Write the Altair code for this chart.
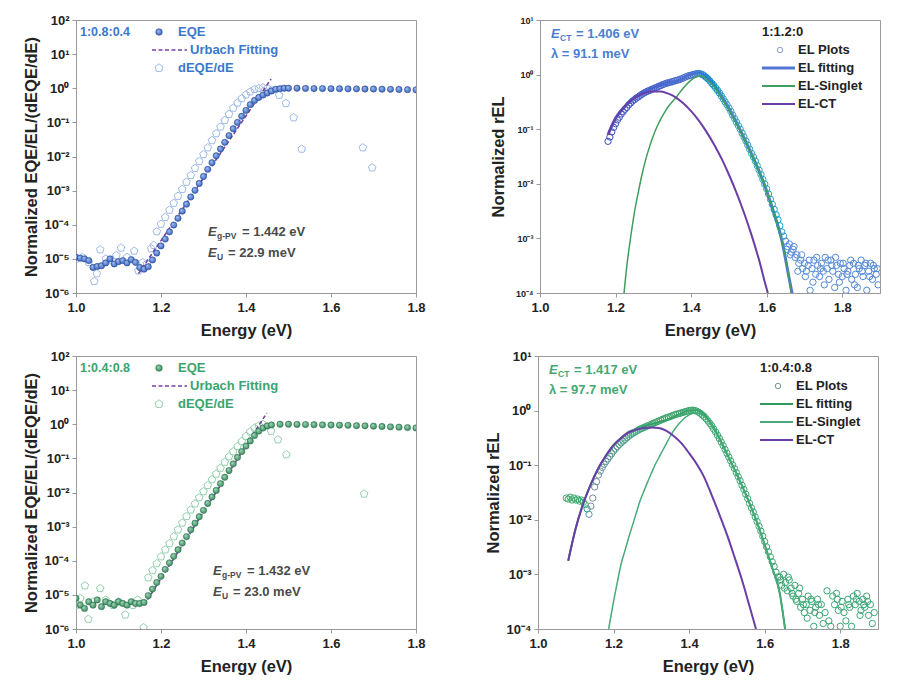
import altair as alt
import pandas as pd

FONT = "Liberation Sans"
PENT = "M0,-1L0.951,-0.309L0.588,0.809L-0.588,0.809L-0.951,-0.309Z"

# ---------------- data (Energy eV, normalized value) ----------------
tl_eqe = [(1.00,1.12e-5),(1.01,1.05e-5),(1.02,1.0e-5),(1.03,8.9e-6),(1.04,5.6e-6),(1.05,6.0e-6),
          (1.06,6.3e-6),(1.07,7.6e-6),(1.08,1.0e-5),(1.09,7.1e-6),(1.10,8.3e-6),(1.11,8.9e-6),
          (1.12,7.6e-6),(1.13,9.5e-6),(1.14,7.9e-6),(1.15,5.6e-6),(1.16,5.0e-6),
          (1.17,5.9e-6),(1.18,9.3e-6),(1.19,1.48e-5),(1.20,2.4e-5),(1.21,3.8e-5),(1.22,6.2e-5),
          (1.23,9.8e-5),(1.24,1.55e-4),(1.25,2.5e-4),(1.26,4.0e-4),(1.27,6.5e-4),(1.28,1.02e-3),
          (1.29,1.62e-3),(1.30,2.6e-3),(1.31,4.2e-3),(1.32,6.6e-3),(1.33,1.05e-2),(1.34,1.66e-2),
          (1.35,2.6e-2),(1.36,4.1e-2),(1.37,6.5e-2),(1.38,0.100),(1.39,0.151),(1.40,0.224),
          (1.41,0.331),(1.42,0.437),(1.43,0.537),(1.44,0.631),(1.45,0.724),(1.46,0.832),(1.47,0.933),
          (1.48,0.97),(1.49,1.0),(1.50,1.0),(1.52,1.0),(1.54,0.99),(1.56,0.98),(1.58,0.98),(1.60,0.97),
          (1.62,0.97),(1.64,0.96),(1.66,0.96),(1.68,0.95),(1.70,0.95),(1.72,0.94),(1.74,0.93),
          (1.76,0.92),(1.78,0.91),(1.80,0.90)]
tl_deqe = [(1.000,1.0e-5),(1.015,1.12e-5),(1.030,7.9e-6),(1.043,2.2e-6),(1.049,3.7e-6),(1.057,1.86e-5),
           (1.070,1.0e-5),(1.085,8.9e-6),(1.095,1.26e-5),(1.106,2.1e-5),(1.120,1.12e-5),(1.137,1.7e-5),
           (1.147,4.5e-6),(1.157,7.9e-6),(1.167,7.2e-6),(1.177,2.0e-5),(1.183,2.5e-5),
           (1.19,6.3e-5),(1.20,1.05e-4),(1.21,1.66e-4),(1.22,2.7e-4),(1.23,4.3e-4),(1.24,6.9e-4),
           (1.25,1.10e-3),(1.26,1.78e-3),(1.27,2.8e-3),(1.28,4.5e-3),(1.29,7.2e-3),(1.30,1.15e-2),
           (1.31,1.82e-2),(1.32,2.95e-2),(1.33,4.7e-2),(1.34,7.4e-2),(1.35,0.115),(1.36,0.174),
           (1.37,0.263),(1.38,0.372),(1.39,0.50),(1.40,0.646),(1.41,0.794),(1.42,0.933),(1.43,1.0),
           (1.44,1.05),(1.45,1.0),(1.46,0.89),(1.478,0.63),(1.494,0.363),(1.512,0.138),(1.531,1.66e-2),
           (1.675,1.82e-2),(1.697,4.7e-3)]
tl_urbach = [(1.147,3.7e-6),(1.459,1.86)]

bl_eqe = [(1.00,7.9e-6),(1.01,5.0e-6),(1.02,4.0e-6),(1.03,6.3e-6),(1.04,5.0e-6),(1.05,7.1e-6),
          (1.06,4.5e-6),(1.07,6.3e-6),(1.08,5.6e-6),(1.09,5.0e-6),(1.10,6.3e-6),(1.11,5.6e-6),
          (1.12,5.0e-6),(1.13,6.3e-6),(1.14,5.6e-6),(1.15,5.6e-6),
          (1.16,6.0e-6),(1.17,9.5e-6),(1.18,1.48e-5),(1.19,2.3e-5),(1.20,3.5e-5),(1.21,5.6e-5),
          (1.22,8.7e-5),(1.23,1.35e-4),(1.24,2.1e-4),(1.25,3.3e-4),(1.26,5.1e-4),(1.27,8.1e-4),
          (1.28,1.26e-3),(1.29,1.95e-3),(1.30,3.0e-3),(1.31,4.8e-3),(1.32,7.4e-3),(1.33,1.15e-2),
          (1.34,1.82e-2),(1.35,2.8e-2),(1.36,4.4e-2),(1.37,6.9e-2),(1.38,0.107),(1.39,0.158),
          (1.40,0.229),(1.41,0.324),(1.42,0.468),(1.43,0.631),(1.44,0.776),(1.45,0.891),(1.46,0.955),
          (1.48,1.0),(1.50,1.0),(1.52,0.99),(1.54,0.98),(1.56,0.97),(1.58,0.96),(1.60,0.95),
          (1.62,0.94),(1.64,0.93),(1.66,0.91),(1.68,0.90),(1.70,0.88),(1.72,0.86),(1.74,0.84),
          (1.76,0.82),(1.78,0.80),(1.80,0.78)]
bl_deqe = [(1.000,5.0e-6),(1.010,7.9e-6),(1.021,1.86e-5),(1.029,1.95e-6),(1.040,6.3e-6),(1.057,1.55e-5),
           (1.070,7.1e-6),(1.087,5.0e-6),(1.100,6.3e-6),(1.116,2.6e-6),(1.134,5.0e-6),(1.145,7.1e-6),
           (1.159,1.1e-6),
           (1.17,3.2e-5),(1.18,5.2e-5),(1.19,8.3e-5),(1.20,1.32e-4),(1.21,2.1e-4),(1.22,3.2e-4),
           (1.23,5.1e-4),(1.24,8.1e-4),(1.25,1.29e-3),(1.26,2.0e-3),(1.27,3.1e-3),(1.28,4.7e-3),
           (1.29,7.1e-3),(1.30,1.07e-2),(1.31,1.62e-2),(1.32,2.4e-2),(1.33,3.5e-2),(1.34,5.2e-2),
           (1.35,7.8e-2),(1.36,0.112),(1.37,0.158),(1.38,0.224),(1.39,0.316),(1.40,0.447),
           (1.41,0.603),(1.42,0.776),(1.43,0.912),(1.44,1.0),(1.459,0.63),(1.475,0.355),
           (1.495,0.129),(1.678,9.1e-3)]
bl_urbach = [(1.16,5.0e-6),(1.449,2.14)]

tr_el = [(1.18,0.060),(1.19,0.089),(1.20,0.126),(1.21,0.166),(1.22,0.209),(1.23,0.251),(1.24,0.302),
         (1.25,0.347),(1.26,0.389),(1.27,0.437),(1.28,0.479),(1.29,0.513),(1.30,0.550),(1.31,0.589),
         (1.32,0.631),(1.33,0.676),(1.34,0.708),(1.35,0.741),(1.36,0.776),(1.37,0.813),(1.38,0.871),
         (1.39,0.933),(1.40,0.977),(1.41,1.02),(1.42,1.05),(1.43,1.0),(1.44,0.891),(1.45,0.759),
         (1.46,0.631),(1.47,0.513),(1.48,0.407),(1.49,0.316),(1.50,0.245),(1.51,0.182),(1.52,0.135),
         (1.53,0.100),(1.54,0.072),(1.55,0.051),(1.56,0.036),(1.57,0.026),(1.58,0.0178),(1.59,0.0120),
         (1.60,0.0081),(1.61,0.0052),(1.62,0.0034),(1.63,0.0022),(1.64,0.00132),
         (1.185,0.072),(1.195,0.108),(1.205,0.148),(1.215,0.190),(1.225,0.232),(1.235,0.280),
         (1.245,0.328),(1.255,0.371),(1.265,0.415),(1.275,0.460),(1.285,0.498),(1.295,0.534),
         (1.305,0.571),(1.315,0.612),(1.325,0.656),(1.335,0.695),(1.345,0.725),(1.355,0.760),
         (1.365,0.795),(1.375,0.843),(1.385,0.905),(1.395,0.960),(1.405,1.0),(1.415,1.04),
         (1.425,1.03),(1.435,0.95),(1.445,0.83),(1.455,0.69),(1.465,0.57),(1.475,0.46),(1.485,0.36),
         (1.495,0.28),(1.505,0.212),(1.515,0.157),(1.525,0.117),(1.535,0.085),(1.545,0.061),
         (1.555,0.043),(1.565,0.031),(1.575,0.0215),(1.585,0.0147),(1.595,0.0099),(1.605,0.0065),
         (1.615,0.0042),(1.625,0.0027),(1.635,0.0017),(1.645,0.0011),
         (1.650,8.9e-4),(1.655,7.1e-4),(1.660,7.9e-4),(1.665,5.6e-4),(1.670,6.3e-4),(1.675,4.5e-4),
         (1.680,5.0e-4),(1.685,3.5e-4),(1.690,4.0e-4),(1.695,2.8e-4),(1.700,3.5e-4),(1.705,2.5e-4),
         (1.710,3.2e-4),(1.715,1.12e-4),(1.720,2.8e-4),(1.725,4.0e-4),(1.730,2.2e-4),(1.735,3.2e-4),
         (1.740,2.0e-4),(1.745,3.5e-4),(1.750,2.5e-4),(1.755,4.5e-4),(1.760,2.8e-4),(1.765,1.78e-4),
         (1.770,4.0e-4),(1.775,2.5e-4),(1.780,1.26e-4),(1.785,3.2e-4),(1.790,2.2e-4),(1.795,3.5e-4),
         (1.800,2.0e-4),(1.805,2.8e-4),(1.810,1.12e-4),(1.815,2.5e-4),(1.820,3.2e-4),(1.825,1.78e-4),
         (1.830,3.5e-4),(1.835,2.2e-4),(1.840,1.26e-4),(1.845,2.8e-4),(1.850,4.0e-4),(1.855,2.0e-4),
         (1.860,3.2e-4),(1.865,1.12e-4),(1.870,2.5e-4),(1.875,3.5e-4),(1.880,1.78e-4),(1.885,2.8e-4),
         (1.890,2.2e-4),(1.895,1.41e-4),
         (1.6525,6.3e-4),(1.6625,5.0e-4),(1.6725,7.1e-4),(1.6825,2.5e-4),(1.6925,5.0e-4),
         (1.7025,2.0e-4),(1.7125,4.0e-4),(1.7225,1.58e-4),(1.7325,4.5e-4),(1.7425,2.8e-4),
         (1.7525,1.41e-4),(1.7625,4.0e-4),(1.7725,3.2e-4),(1.7825,4.5e-4),(1.7925,1.58e-4),
         (1.8025,3.5e-4),(1.8125,2.2e-4),(1.8225,4.0e-4),(1.8325,1.41e-4),(1.8425,3.2e-4),
         (1.8525,2.5e-4),(1.8625,3.5e-4),(1.8725,2.0e-4),(1.8825,3.2e-4),(1.8925,2.8e-4)]
tr_fit = [(1.18,0.079),(1.20,0.158),(1.22,0.240),(1.24,0.332),(1.26,0.414),(1.28,0.496),(1.30,0.566),
          (1.32,0.645),(1.34,0.710),(1.36,0.760),(1.38,0.870),(1.40,1.008),(1.42,1.078),(1.44,0.923),
          (1.46,0.657),(1.48,0.410),(1.50,0.239),(1.52,0.133),(1.54,6.9e-2),(1.56,3.5e-2),
          (1.58,1.70e-2),(1.60,7.4e-3),(1.62,2.8e-3),(1.64,9.3e-4),(1.66,1.78e-4),(1.67,7.9e-5)]
tr_singlet = [(1.2225,1.0e-4),(1.23,3.2e-4),(1.24,1.05e-3),(1.25,3.0e-3),(1.26,6.9e-3),(1.27,1.48e-2),
              (1.28,2.8e-2),(1.29,4.8e-2),(1.30,7.6e-2),(1.31,0.112),(1.32,0.155),(1.33,0.204),
              (1.34,0.263),(1.36,0.380),(1.38,0.575),(1.40,0.794),(1.42,0.933),(1.43,0.933),
              (1.44,0.832),(1.46,0.603),(1.48,0.380),(1.50,0.224),(1.52,0.126),(1.54,6.6e-2),
              (1.56,3.4e-2),(1.58,1.66e-2),(1.60,7.4e-3),(1.62,2.8e-3),(1.64,9.3e-4),(1.65,4.5e-4),
              (1.66,1.78e-4),(1.665,1.0e-4)]
tr_ct = [(1.18,7.9e-2),(1.20,0.158),(1.22,0.240),(1.24,0.331),(1.26,0.407),(1.28,0.468),(1.30,0.490),
         (1.32,0.490),(1.34,0.447),(1.36,0.380),(1.38,0.295),(1.40,0.214),(1.42,0.145),(1.44,0.0912),
         (1.46,0.0537),(1.48,0.0295),(1.50,0.0148),(1.52,6.9e-3),(1.54,2.95e-3),(1.56,1.15e-3),
         (1.58,4.0e-4),(1.597,1.41e-4),(1.603,1.0e-4)]

br_el = [(1.075,2.5e-2),(1.080,2.4e-2),(1.085,2.6e-2),(1.090,2.3e-2),(1.095,2.5e-2),(1.100,2.3e-2),
         (1.105,2.4e-2),(1.110,2.2e-2),(1.115,2.3e-2),(1.120,2.1e-2),(1.125,1.9e-2),(1.130,1.58e-2),
         (1.135,1.26e-2),(1.140,1.78e-2),(1.145,2.5e-2),(1.150,4.0e-2),(1.155,5.0e-2),
         (1.16,6.6e-2),(1.17,9.1e-2),(1.18,0.117),(1.19,0.145),(1.20,0.182),(1.21,0.219),(1.22,0.257),
         (1.23,0.295),(1.24,0.339),(1.25,0.380),(1.26,0.417),(1.27,0.457),(1.28,0.490),(1.29,0.525),
         (1.30,0.562),(1.31,0.603),(1.32,0.646),(1.33,0.692),(1.34,0.741),(1.35,0.776),(1.36,0.832),
         (1.37,0.871),(1.38,0.912),(1.39,0.955),(1.40,1.0),(1.41,1.02),(1.42,0.977),(1.43,0.891),
         (1.44,0.776),(1.45,0.646),(1.46,0.525),(1.47,0.407),(1.48,0.309),(1.49,0.229),(1.50,0.166),
         (1.51,0.120),(1.52,8.7e-2),(1.53,6.2e-2),(1.54,4.3e-2),(1.55,2.95e-2),(1.56,2.0e-2),
         (1.57,1.38e-2),(1.58,9.3e-3),(1.59,6.2e-3),(1.60,4.0e-3),(1.61,2.6e-3),(1.62,1.70e-3),
         (1.63,1.10e-3),
         (1.165,0.078),(1.175,0.104),(1.185,0.131),(1.195,0.163),(1.205,0.200),(1.215,0.238),
         (1.225,0.276),(1.235,0.317),(1.245,0.360),(1.255,0.398),(1.265,0.437),(1.275,0.473),
         (1.285,0.507),(1.295,0.543),(1.305,0.582),(1.315,0.624),(1.325,0.669),(1.335,0.716),
         (1.345,0.758),(1.355,0.804),(1.365,0.851),(1.375,0.891),(1.385,0.933),(1.395,0.977),
         (1.405,1.01),(1.415,1.0),(1.425,0.935),(1.435,0.83),(1.445,0.71),(1.455,0.58),(1.465,0.46),
         (1.475,0.355),(1.485,0.266),(1.495,0.195),(1.505,0.141),(1.515,0.102),(1.525,0.073),
         (1.535,0.052),(1.545,0.036),(1.555,0.0245),(1.565,0.0166),(1.575,0.0113),(1.585,0.0076),
         (1.595,0.0050),(1.605,0.0032),(1.615,0.0021),(1.625,0.0014),(1.635,0.0009),
         (1.640,8.9e-4),(1.645,6.3e-4),(1.650,1.0e-3),(1.655,7.1e-4),(1.660,5.0e-4),(1.665,7.9e-4),
         (1.670,5.6e-4),(1.675,4.0e-4),(1.680,6.3e-4),(1.685,3.2e-4),(1.690,4.5e-4),(1.695,2.5e-4),
         (1.700,3.5e-4),(1.705,2.0e-4),(1.710,2.8e-4),(1.715,4.0e-4),(1.720,2.2e-4),(1.725,3.2e-4),
         (1.730,1.12e-4),(1.735,2.5e-4),(1.740,3.5e-4),(1.745,1.78e-4),(1.750,2.8e-4),(1.755,1.26e-4),
         (1.760,2.0e-4),(1.765,5.0e-4),(1.770,1.41e-4),(1.775,1.12e-4),(1.780,4.0e-4),(1.785,2.8e-4),
         (1.790,4.5e-4),(1.795,2.2e-4),(1.800,1.12e-4),(1.805,3.2e-4),(1.810,2.0e-4),(1.815,1.41e-4),
         (1.820,3.5e-4),(1.825,2.5e-4),(1.830,1.12e-4),(1.835,4.0e-4),(1.840,2.8e-4),(1.845,4.5e-4),
         (1.850,3.2e-4),(1.855,2.2e-4),(1.860,3.5e-4),(1.865,2.5e-4),(1.870,4.0e-4),(1.875,1.78e-4),
         (1.880,2.8e-4),(1.885,1.26e-4),(1.890,2.0e-4),
         (1.6425,7.9e-4),(1.6525,5.6e-4),(1.6625,8.9e-4),(1.6725,4.5e-4),(1.6825,3.5e-4),
         (1.6925,5.6e-4),(1.7025,2.8e-4),(1.7125,1.58e-4),(1.7225,3.5e-4),(1.7325,2.0e-4),
         (1.7425,2.8e-4),(1.7925,3.5e-4),(1.8025,2.5e-4),(1.8225,2.8e-4),(1.8425,3.5e-4),
         (1.8525,1.78e-4),(1.8625,2.8e-4),(1.8725,3.2e-4)]
br_fit = [(1.08,1.78e-3),(1.10,7.1e-3),(1.12,2.0e-2),(1.14,4.5e-2),(1.16,8.9e-2),(1.18,0.151),
          (1.20,0.234),(1.22,0.316),(1.24,0.407),(1.26,0.457),(1.28,0.513),(1.30,0.562),(1.32,0.617),
          (1.34,0.676),(1.36,0.776),(1.38,0.891),(1.40,1.0),(1.42,1.02),(1.44,0.851),(1.46,0.550),
          (1.48,0.316),(1.50,0.162),(1.52,8.5e-2),(1.54,4.2e-2),(1.56,2.0e-2),(1.58,8.9e-3),
          (1.60,3.5e-3),(1.62,1.32e-3),(1.64,4.5e-4),(1.654,1.0e-4)]
br_singlet = [(1.187,1.0e-4),(1.20,3.2e-4),(1.21,7.2e-4),(1.22,1.55e-3),(1.23,2.7e-3),(1.24,4.7e-3),
              (1.25,7.9e-3),(1.26,1.32e-2),(1.27,2.2e-2),(1.28,3.3e-2),(1.29,4.9e-2),(1.30,7.1e-2),
              (1.31,0.102),(1.32,0.138),(1.33,0.186),(1.34,0.251),(1.35,0.339),(1.36,0.437),
              (1.38,0.646),(1.40,0.832),(1.42,0.912),(1.44,0.794),(1.46,0.525),(1.48,0.302),
              (1.50,0.158),(1.52,8.3e-2),(1.54,4.2e-2),(1.56,2.0e-2),(1.58,8.9e-3),(1.60,3.5e-3),
              (1.62,1.32e-3),(1.64,4.5e-4),(1.654,1.0e-4)]
br_ct = [(1.08,1.78e-3),(1.10,7.1e-3),(1.12,2.0e-2),(1.14,4.5e-2),(1.16,8.9e-2),(1.18,0.151),
         (1.20,0.234),(1.22,0.316),(1.24,0.398),(1.26,0.447),(1.28,0.479),(1.30,0.490),(1.32,0.479),
         (1.34,0.427),(1.36,0.339),(1.38,0.251),(1.40,0.166),(1.42,0.105),(1.44,6.0e-2),(1.46,2.8e-2),
         (1.48,1.26e-2),(1.50,5.4e-3),(1.52,2.1e-3),(1.54,7.9e-4),(1.56,2.6e-4),(1.577,1.0e-4)]

x_ticks = [1.0, 1.2, 1.4, 1.6, 1.8]
eqe_ticks = [1e-6, 1e-5, 1e-4, 1e-3, 1e-2, 1e-1, 1, 10, 100]
el_ticks = [1e-4, 1e-3, 1e-2, 1e-1, 1, 10]

# ---------------- helpers ----------------
SUP = {'-': '\u207b', '0': '\u2070', '1': '\u00b9', '2': '\u00b2', '3': '\u00b3',
       '4': '\u2074', '5': '\u2075', '6': '\u2076'}


def lab(e):
    return '10' + ''.join(SUP[c] for c in str(e))


def label_expr(exps):
    expr = "'" + lab(exps[-1]) + "'"
    for e in reversed(exps[:-1]):
        expr = "datum.value < %s ? '%s' : (%s)" % (repr(10.0 ** (e + 0.5)), lab(e), expr)
    return expr


def df(pairs):
    return pd.DataFrame(pairs, columns=['E', 'V'])


dummy = pd.DataFrame({'k': [0]})


def T(s, x, y, color, size=13, style='normal', weight='bold'):
    return alt.Chart(dummy).mark_text(text=s, align='left', baseline='middle', font=FONT,
                                      fontSize=size, fontStyle=style, fontWeight=weight,
                                      color=color).encode(x=alt.value(x), y=alt.value(y))


def Lline(x1, x2, y, color, w, dash=None):
    kw = dict(color=color, strokeWidth=w)
    if dash:
        kw['strokeDash'] = dash
    return alt.Chart(dummy).mark_rule(**kw).encode(x=alt.value(x1), x2=alt.value(x2), y=alt.value(y))


def Lpt(x, y, kind, **kw):
    ch = alt.Chart(dummy)
    m = ch.mark_circle(**kw) if kind == 'circle' else ch.mark_point(**kw)
    return m.encode(x=alt.value(x), y=alt.value(y))


def enc(xmax, ylo, yhi, ticks, exps, ytitle, ylabsize, ytitlepad):
    X = alt.X('E:Q', scale=alt.Scale(domain=[1.0, xmax], nice=False, zero=False),
              axis=alt.Axis(values=x_ticks, format='.1f', title='Energy (eV)', labelFlush=False))
    Y = alt.Y('V:Q', scale=alt.Scale(type='log', domain=[ylo, yhi], nice=False),
              axis=alt.Axis(values=ticks, labelExpr=label_expr(exps), title=ytitle, labelFlush=False,
                            labelFontSize=ylabsize, titlePadding=ytitlepad))
    return X, Y


def grad(c1, c2):
    return {"gradient": "radial", "x1": 0.35, "y1": 0.32, "r1": 0.0, "x2": 0.5, "y2": 0.5, "r2": 0.6,
            "stops": [{"offset": 0, "color": c1}, {"offset": 1, "color": c2}]}


W, H = 340, 273


def eqe_panel(eqe, deqe, urb, tag, tcol, g, gstroke, pcol, eg, eu, ex, ey):
    X, Y = enc(1.8, 1e-6, 1e2, eqe_ticks, [-6, -5, -4, -3, -2, -1, 0, 1, 2],
               'Normalized EQE/EL/(dEQE/dE)', 13, 5)
    pent = alt.Chart(df(deqe)).mark_point(shape=PENT, filled=False, size=64, strokeWidth=1,
                                          color=pcol, opacity=1, clip=True).encode(x=X, y=Y)
    ur = alt.Chart(df(urb)).mark_line(color='#7b3fa6', strokeWidth=1.6, strokeDash=[4, 2.5],
                                      clip=True).encode(x=X, y=Y)
    pts = alt.Chart(df(eqe)).mark_circle(size=40, color=g, stroke=gstroke, strokeWidth=0.5,
                                         opacity=1, clip=True).encode(x=X, y=Y)
    gray = '#4a4a4a'
    layers = [pent, ur, pts,
              T(tag, 4, 12, tcol, size=12.5),
              Lpt(83, 12, 'circle', size=44, color=g, stroke=gstroke, strokeWidth=0.5, opacity=1),
              T('EQE', 102, 12, tcol),
              Lline(76, 111, 30, '#7b3fa6', 1.6, [4, 2.5]),
              T('Urbach Fitting', 114, 30, tcol),
              Lpt(83, 48, 'point', shape=PENT, filled=False, size=70, strokeWidth=1, color=pcol, opacity=1),
              T('dEQE/dE', 102, 48, tcol),
              T('E', ex, ey, gray, style='italic'),
              T('g-PV', ex + 9, ey + 4, gray, size=8.5),
              T('= ' + eg, ex + 34, ey, gray),
              T('E', ex, ey + 21, gray, style='italic'),
              T('U', ex + 9, ey + 25, gray, size=8.5),
              T('= ' + eu, ex + 20, ey + 21, gray)]
    return alt.layer(*layers).properties(width=W, height=H)


def el_panel(el, fit, sing, ct, tag, tcol, ect, lam, cdom, crange, fitcol, fitw, singcol, plotcol,
             ylabsize, ytitlepad):
    X, Y = enc(1.9, 1e-4, 1e1, el_ticks, [-4, -3, -2, -1, 0, 1], 'Normalized rEL', ylabsize, ytitlepad)
    fl = alt.Chart(df(fit)).mark_line(color=fitcol, strokeWidth=fitw, interpolate='monotone',
                                      clip=True).encode(x=X, y=Y)
    pts = alt.Chart(df(el)).mark_point(filled=False, size=40, strokeWidth=1, opacity=1,
                                       clip=True).encode(
        x=X, y=Y, color=alt.Color('E:Q', scale=alt.Scale(domain=cdom, range=crange), legend=None))
    sl = alt.Chart(df(sing)).mark_line(color=singcol, strokeWidth=1.5, interpolate='monotone',
                                       clip=True).encode(x=X, y=Y)
    cl = alt.Chart(df(ct)).mark_line(color='#6a3ea6', strokeWidth=2, interpolate='monotone',
                                     clip=True).encode(x=X, y=Y)
    k = '#222222'
    layers = [fl, pts, sl, cl,
              T('E', 11, 14, tcol, style='italic'),
              T('CT', 20, 18, tcol, size=8.5),
              T('= ' + ect, 36, 14, tcol),
              T('\u03bb = ' + lam, 11, 34, tcol),
              T(tag, 222, 12, k),
              Lpt(240, 30, 'point', shape='circle', filled=False, size=30, strokeWidth=1,
                  color=plotcol, opacity=1),
              T('EL Plots', 258, 30, k),
              Lline(222, 255, 48, fitcol, fitw),
              T('EL fitting', 258, 48, k),
              Lline(222, 255, 66, singcol, 1.8),
              T('EL-Singlet', 258, 66, k),
              Lline(222, 255, 84, '#6a3ea6', 2),
              T('EL-CT', 258, 84, k)]
    return alt.layer(*layers).properties(width=W, height=H)


BLUE_T = '#3a78cc'
GREEN_T = '#3aa46e'

tl = eqe_panel(tl_eqe, tl_deqe, tl_urbach, '1:0.8:0.4', BLUE_T, grad('#a9c4f2', '#2a55b5'),
               '#23458f', '#9dbae8', '1.442 eV', '22.9 meV', 132, 212)
bl = eqe_panel(bl_eqe, bl_deqe, bl_urbach, '1:0.4:0.8', GREEN_T, grad('#a8dcbc', '#2a7d52'),
               '#226a45', '#93d0ad', '1.432 eV', '23.0 meV', 137, 215)
tr = el_panel(tr_el, tr_fit, tr_singlet, tr_ct, '1:1.2:0', '#4a7fd0', '1.406 eV', '91.1 meV',
              [1.17, 1.40, 1.50, 1.60, 1.66, 1.90],
              ['#3c4cc0', '#4a6ed0', '#36a0bc', '#30a8a8', '#5a8ed8', '#4f86d4'],
              '#5575d6', 3, '#3f9f5f', '#8aa0c8', 9, 9)
br = el_panel(br_el, br_fit, br_singlet, br_ct, '1:0.4:0.8', '#45a872', '1.417 eV', '97.7 meV',
              [1.07, 1.125, 1.14, 1.20, 1.30, 1.90],
              ['#3aaa6a', '#3aaa6a', '#7a8c98', '#5a9a90', '#3aa46a', '#3aa878'],
              '#2e9a60', 2, '#4aaa7a', '#6a9a8a', 13, 5)

top = alt.hconcat(tl, tr, spacing=64).resolve_scale(x='independent', y='independent', color='independent')
bot = alt.hconcat(bl, br, spacing=58).resolve_scale(x='independent', y='independent', color='independent')

chart = alt.vconcat(top, bot, spacing=10).resolve_scale(
    x='independent', y='independent', color='independent'
).properties(
    padding={'left': 14, 'top': 5, 'right': 5, 'bottom': 5}
).configure(background='white').configure_view(
    stroke='#999999', strokeWidth=1
).configure_axis(
    labelFont=FONT, titleFont=FONT, labelFontWeight='bold', titleFontWeight='bold',
    labelFontSize=13, titleFontSize=16.5, labelColor='#222222', titleColor='#222222',
    domainColor='#999999', tickColor='#999999', tickSize=4, grid=False, labelOverlap=False
).configure_axisX(labelPadding=4, titlePadding=8).configure_axisY(labelPadding=3)

chart.save('out.html', embed_options={'renderer': 'svg', 'actions': False})
